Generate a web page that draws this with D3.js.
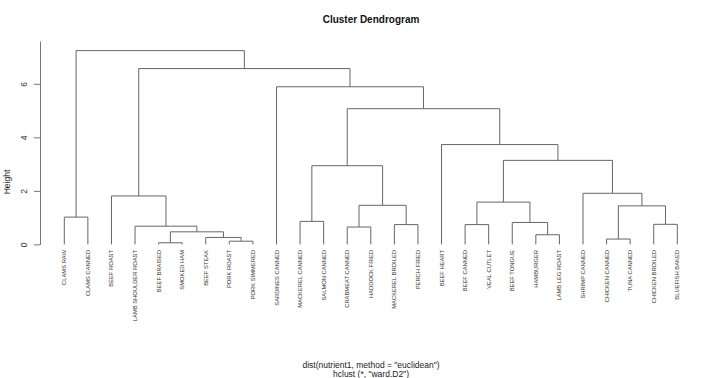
<!DOCTYPE html>
<html>
<head>
<meta charset="utf-8">
<script src="https://cdn.jsdelivr.net/npm/d3@7"></script>
<style>
  body { margin: 0; background: #fff; }
  svg { display: block; font-family: "Liberation Sans", Arial, sans-serif; }
</style>
</head>
<body>
<svg id="chart" width="720" height="378"></svg>
<script>
// leaf labels in dendrogram order
const labels = [
    "CLAMS RAW", "CLAMS CANNED", "BEEF ROAST", "LAMB SHOULDER ROAST", "BEEF BRAISED",
    "SMOKED HAM", "BEEF STEAK", "PORK ROAST", "PORK SIMMERED", "SARDINES CANNED",
    "MACKEREL CANNED", "SALMON CANNED", "CRABMEAT CANNED", "HADDOCK FRIED", "MACKEREL BROILED",
    "PERCH FRIED", "BEEF HEART", "BEEF CANNED", "VEAL CUTLET", "BEEF TONGUE",
    "HAMBURGER", "LAMB LEG ROAST", "SHRIMP CANNED", "CHICKEN CANNED", "TUNA CANNED",
    "CHICKEN BROILED", "BLUEFISH BAKED"
]

// hclust style merge table: negative = leaf (1-based), positive = earlier merge
const merges = [
    [-5, -6], [-8, -9], [-24, -25], [-7, 2], [-21, -22],
    [1, 4], [-13, -14], [-4, 6], [-18, -19], [-15, -16],
    [-26, -27], [-20, 5], [-11, -12], [-1, -2], [3, 11],
    [7, 10], [9, 12], [-3, 8], [-23, 15], [13, 16],
    [17, 19], [-17, 21], [20, 22], [-10, 23], [18, 24],
    [14, 25]
]
const mergeHeights = [
    0.06, 0.12, 0.20, 0.26, 0.36,
    0.47, 0.65, 0.68, 0.74, 0.74,
    0.75, 0.82, 0.86, 1.02, 1.44,
    1.46, 1.58, 1.81, 1.91, 2.94,
    3.14, 3.73, 5.07, 5.89, 6.57,
    7.24
]
const tickValues = [0, 2, 4, 6]

const svg = d3.select("#chart")

const x = d3.scalePoint()
    .domain(labels)
    .range([64.3, 677.3])

const y = d3.scaleLinear()
    .domain([0, 7.6])
    .range([244.4, 41])

// position of each node (leaf or merge)
function nodePos(ref) {
    if (ref < 0) return { x: x(labels[-ref - 1]), h: 0 }
    return mergePos[ref - 1]
}
const mergePos = []
merges.forEach((m, i) => {
    const a = nodePos(m[0])
    const b = nodePos(m[1])
    mergePos.push({ x: (a.x + b.x) / 2, h: mergeHeights[i], a: a, b: b })
})

svg.append("g")
    .attr("class", "links")
    .selectAll("path")
    .data(mergePos)
    .join("path")
    .attr("d", d => `M${d.a.x},${y(d.a.h)}V${y(d.h)}H${d.b.x}V${y(d.b.h)}`)
    .attr("fill", "none")
    .attr("stroke", "#666")
    .attr("stroke-width", 1)

// leaf labels
svg.append("g")
    .selectAll("text")
    .data(labels)
    .join("text")
    .attr("transform", d => `translate(${x(d)},250) rotate(-90)`)
    .attr("text-anchor", "end")
    .attr("dy", "0.35em")
    .attr("font-size", "5.8px")
    .attr("fill", "#333")
    .text(d => d)

// y axis
const yAxis = svg.append("g")
    .attr("transform", "translate(40,0)")
    .call(d3.axisLeft(y).tickValues(tickValues).tickSize(6).tickSizeOuter(0).tickFormat(d3.format("d")))

yAxis.select(".domain").attr("stroke", "#777")
yAxis.selectAll(".tick line").attr("stroke", "#777")
yAxis.selectAll(".tick text")
    .attr("x", null)
    .attr("dy", null)
    .attr("transform", "translate(-12.7,0) rotate(-90)")
    .attr("text-anchor", "middle")
    .attr("font-size", "8.5px")
    .attr("font-family", "'Liberation Sans', Arial, sans-serif")
    .attr("fill", "#333")

svg.append("text")
    .attr("transform", "translate(10,182) rotate(-90)")
    .attr("text-anchor", "middle")
    .attr("font-size", "8.5px")
    .attr("fill", "#222")
    .text("Height")

svg.append("text")
    .attr("x", 371)
    .attr("y", 23)
    .attr("text-anchor", "middle")
    .attr("font-size", "10px")
    .attr("font-weight", "bold")
    .attr("fill", "#111")
    .text("Cluster Dendrogram")

svg.append("text")
    .attr("x", 371)
    .attr("y", 368)
    .attr("text-anchor", "middle")
    .attr("font-size", "8.5px")
    .attr("fill", "#222")
    .text('dist(nutrient1, method = "euclidean")')

svg.append("text")
    .attr("x", 371)
    .attr("y", 376.5)
    .attr("text-anchor", "middle")
    .attr("font-size", "8.5px")
    .attr("fill", "#222")
    .text('hclust (*, "ward.D2")')
</script>
</body>
</html>
